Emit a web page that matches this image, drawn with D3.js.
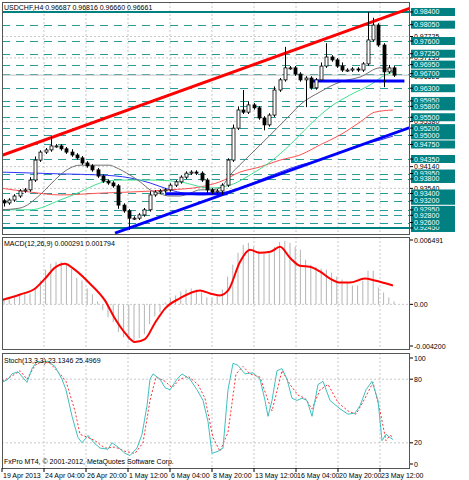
<!DOCTYPE html>
<html><head><meta charset="utf-8">
<script src="https://cdn.jsdelivr.net/npm/d3@7"></script>
<style>body{margin:0;background:#fff}svg{font-family:"Liberation Sans",Arial,sans-serif}</style>
</head><body><svg id="c" width="469" height="480"></svg>
<script>
// candle closes (H4, one per ~2 real bars)
var closes = [0.9314,0.9322,0.9333,0.9347,0.9350,0.9377,0.9432,0.9454,0.9460,0.9471,
  0.9471,0.9463,0.9454,0.9446,0.9438,0.9424,0.9416,0.9405,0.9388,0.9374,
  0.9369,0.9361,0.9308,0.9292,0.9272,0.9272,0.9281,0.9295,0.9336,0.9344,
  0.9347,0.9350,0.9363,0.9372,0.9385,0.9396,0.9399,0.9396,0.9377,0.9350,
  0.9344,0.9347,0.9363,0.9432,0.9520,0.9570,0.9564,0.9584,0.9576,0.9548,
  0.9529,0.9556,0.9625,0.9653,0.9686,0.9686,0.9669,0.9653,0.9658,0.9631,
  0.9653,0.9691,0.9716,0.9708,0.9691,0.9680,0.9680,0.9683,0.9680,0.9697,
  0.9763,0.9804,0.9749,0.9675,0.9686,0.96661];
var firstOpen = 0.9320;
// wick lengths beyond the body, in pips
var hiPips = [5,5,5,5,5,8,10,5,5,25, 5,5,5,8,5,5,5,5,5,5, 5,5,5,5,5,5,5,5,10,5,
  5,5,5,5,5,5,5,5,5,5, 5,5,5,5,10,10,55,10,5,5, 5,5,10,5,58,5,5,5,5,5,
  5,10,38,5,5,10,5,5,5,5, 77,20,5,5,8,5];
var loPips = [10,5,5,5,5,5,5,5,5,5, 5,5,5,5,5,5,5,5,5,5, 5,5,10,5,32,5,5,5,5,5,
  5,5,5,5,5,5,5,5,5,10, 5,5,10,5,5,5,5,5,5,5, 15,5,5,5,5,5,5,5,75,5,
  5,5,5,5,5,5,5,5,5,5, 5,5,5,42,5,5];

// moving averages: [bar, price]
var maGray = [[-0.7,0.9295],[3.1,0.9300],[6.9,0.9336],[8.8,0.9363],[10.8,0.9391],[12.7,0.9410],[14.6,0.9418],[18.5,0.9418],[20.4,0.9418],[21.3,0.9413],[24.2,0.9391],[26.2,0.9372],[28.1,0.9350],[30,0.9339],[31.9,0.9333],[33.8,0.9333],[35.8,0.9341],[37.7,0.9350],[39.6,0.9350],[41.5,0.9355],[43.5,0.9391],[47.3,0.9446],[51.2,0.9501],[55,0.9556],[56.9,0.9584],[60.8,0.9620],[64.6,0.9647],[68.5,0.9661],[72.3,0.9686],[75,0.9675]];
var maGreen = [[-0.7,0.9295],[5,0.9295],[10.8,0.9322],[14.6,0.9344],[18.5,0.9369],[22.3,0.9377],[28.1,0.9377],[33.8,0.9372],[39.6,0.9355],[43.5,0.9363],[47.3,0.9391],[51.2,0.9427],[55,0.9474],[58.8,0.9529],[62.7,0.9578],[66.5,0.9611],[70.4,0.9639],[73.3,0.9666],[75,0.9675]];
var maRed = [[-0.7,0.9355],[5,0.9344],[10.8,0.9336],[18.5,0.9341],[24.2,0.9344],[31.9,0.9350],[37.7,0.9358],[41.5,0.9372],[45.4,0.9399],[49.2,0.9413],[53.1,0.9432],[56.9,0.9446],[60.8,0.9474],[64.6,0.9501],[68.5,0.9537],[71.3,0.9564],[74.8,0.9570]];
var maBlue = [[-0.7,0.9399],[10.8,0.9394],[18.5,0.9391],[24.2,0.9383],[28.1,0.9369],[31.9,0.9350],[37.7,0.9336],[41.5,0.9341],[45.4,0.9355],[49.2,0.9377],[53.1,0.9399],[56.9,0.9418],[60.8,0.9432],[64.6,0.9454],[68.5,0.9474],[72.3,0.9487],[74.8,0.9498]];

// trendlines [bar, price]
var redTrend = [[-1,0.9442],[78,0.9850]];
var blueTrend = [[21.35,0.9231],[78.5,0.9524]];
var blueSupport1 = [[31,0.9339],[43,0.9339]];
var blueSupport2 = [[59.4,0.9650],[77,0.9650]];

// horizontal levels
var levels = [0.98050,0.97600,0.97250,0.96950,0.96700,0.96300,0.95950,0.95800,0.95500,0.95200,0.95000,0.94750,0.94350,0.93950,0.93800,0.93400,0.93200,0.92950,0.92800,0.92600];
var solidLevels = [0.98400,0.92450];
var gridPrices = [0.97725,0.97135,0.95380,0.94140,0.93540];
var lastPrice = 0.96661;

// MACD
var macdHist = [0.0006,0.0007,0.0008,0.001,0.0012,0.0011,0.0016,0.0024,0.0035,0.0041,
  0.0043,0.0043,0.004,0.0036,0.0027,0.0024,0.0016,0.001,0.0003,-0.0006,
  -0.0013,-0.0018,-0.0028,-0.0033,-0.0036,-0.0036,-0.0034,-0.003,-0.002,-0.0012,
  -0.0008,0.0002,0.0006,0.0009,0.0013,0.0015,0.0016,0.0015,0.0012,0.0007,
  0.0006,0.001,0.0015,0.0028,0.004,0.0052,0.006,0.0062,0.0058,0.0054,
  0.0051,0.0052,0.0058,0.0063,0.0064,0.0062,0.0058,0.0055,0.0045,0.004,
  0.0038,0.0036,0.0035,0.0032,0.0028,0.0025,0.0022,0.0019,0.0019,0.0024,
  0.0034,0.0034,0.0017,0.0012,0.0007,0.0003];
var macdSignal = [[-0.7,0.0004],[3.1,0.001],[6,0.0016],[7.9,0.0026],[9.8,0.0037],[11.7,0.0041],[13.6,0.0035],[16.5,0.0021],[19.4,0.0004],[21.3,-0.0014],[23.3,-0.0029],[25.2,-0.0038],[27.1,-0.0035],[29,-0.0019],[31,-0.0004],[33.8,0.0006],[37.7,0.0014],[39.6,0.0011],[41.5,0.0009],[43.1,0.0014],[45.4,0.0043],[47.3,0.0055],[49.2,0.0052],[51.2,0.0053],[53.1,0.0058],[55,0.0047],[56.9,0.0039],[58.8,0.0038],[60.8,0.0033],[62.7,0.0026],[64.6,0.0022],[66.5,0.0022],[69.4,0.0026],[71.3,0.0024],[74.8,0.0019]];

// Stochastic, positions along the time axis and values
var stochMainX = [2,8,12,18,27,32,37,42,48,55,62,66,72,78,82,88,94,100,108,112,118,125,130,137,142,147,150,153,160,165,170,177,182,190,197,203,208,212,218,223,228,233,238,245,253,260,265,268,272,277,282,287,292,297,302,307,312,318,323,330,340,348,355,360,366,372,378,382,386,390,393];
var stochMain = [77,80,85,87,77,90,97,96,97,92,80,70,45,25,20,27,20,15,14,20,16,10,8,15,28,55,80,85,80,72,70,80,85,80,70,60,40,10,12,15,70,95,93,85,86,80,60,45,60,88,90,80,62,60,62,60,45,75,78,60,52,47,48,55,70,78,60,22,28,25,23.13];
var stochSigX = [2,12,20,27,35,42,50,60,66,75,80,88,95,105,115,125,135,143,150,156,165,172,180,188,198,205,213,220,228,236,243,250,260,268,272,282,290,298,305,312,320,328,338,348,356,365,373,380,386,390,393];
var stochSig = [78,83,88,80,93,97,95,85,78,50,28,25,22,15,16,12,10,20,60,82,78,72,80,83,75,62,25,12,30,85,92,85,82,60,50,88,75,65,62,52,70,75,58,50,47,62,77,50,22,27,25.5];

var timeLabels = ["19 Apr 2013","24 Apr 04:00","26 Apr 20:00","1 May 12:00","6 May 04:00","8 May 20:00","13 May 12:00","16 May 04:00","20 May 20:00","23 May 12:00"];

var svg = d3.select("#c");
var teal = "#008080";
var L = 2, R = 410;
var FS = 7;

var x = d3.scaleLinear().domain([0, 75]).range([4, 394]);
var yP = d3.scaleLinear().domain([0.92284, 0.98675]).range([234, 2]);
var yM = d3.scaleLinear().domain([-0.0042, 0.00649]).range([346, 240]);
var yS = d3.scaleLinear().domain([0, 100]).range([464, 358]);
var xPix = d3.scaleLinear().domain([0, 469]).range([0, 469]);
var tickX = d3.scaleLinear().domain([0, 9]).range([2, 380]);

function clip(id, y0, y1) {
  svg.append("clipPath").attr("id", id).append("rect")
    .attr("x", L).attr("y", y0).attr("width", R - L).attr("height", y1 - y0);
}
clip("cp", 2, 234); clip("cm", 237, 349); clip("cs", 353, 468);

// vertical grid
[[2,234],[237,349],[353,468]].forEach(function(p) {
  d3.range(1, 10).forEach(function(k) {
    svg.append("line").attr("x1", tickX(k)).attr("x2", tickX(k)).attr("y1", p[0]).attr("y2", p[1])
      .attr("stroke", "#c8c8c8").attr("stroke-dasharray", "2,2");
  });
});

var gp = svg.append("g").attr("clip-path", "url(#cp)");
gridPrices.forEach(function(p) {
  gp.append("line").attr("x1", L).attr("x2", R).attr("y1", yP(p)).attr("y2", yP(p))
    .attr("stroke", "#c8c8c8").attr("stroke-dasharray", "2,2");
});
levels.forEach(function(p) {
  gp.append("line").attr("x1", L).attr("x2", R).attr("y1", Math.round(yP(p)) + 0.5).attr("y2", Math.round(yP(p)) + 0.5)
    .attr("stroke", "#2a9a9a").attr("stroke-dasharray", "8,6");
});
solidLevels.forEach(function(p) {
  gp.append("line").attr("x1", L).attr("x2", R).attr("y1", yP(p)).attr("y2", yP(p))
    .attr("stroke", teal).attr("stroke-width", 2);
});
gp.append("line").attr("x1", L).attr("x2", R).attr("y1", yP(lastPrice)).attr("y2", yP(lastPrice))
  .attr("stroke", "#c0c0c0");

var line = d3.line().x(function(d) { return x(d[0]); }).y(function(d) { return yP(d[1]); }).curve(d3.curveMonotoneX);
[[maBlue, "#3030ff"], [maRed, "#ff5050"], [maGreen, "#40e090"], [maGray, "#707070"]].forEach(function(m) {
  gp.append("path").attr("d", line(m[0])).attr("fill", "none").attr("stroke", m[1]).attr("stroke-width", 1);
});

var straight = d3.line().x(function(d) { return x(d[0]); }).y(function(d) { return yP(d[1]); });
gp.append("path").attr("d", straight(redTrend)).attr("stroke", "#ff0000").attr("stroke-width", 3);
gp.append("path").attr("d", straight(blueTrend)).attr("stroke", "#0000ff").attr("stroke-width", 3);
gp.append("path").attr("d", straight(blueSupport1)).attr("stroke", "#0000ff").attr("stroke-width", 3);
gp.append("path").attr("d", straight(blueSupport2)).attr("stroke", "#0000ff").attr("stroke-width", 3);

// candles
closes.forEach(function(c, i) {
  var o = i === 0 ? firstOpen : closes[i - 1];
  var top = Math.max(o, c), bot = Math.min(o, c);
  var hi = top + hiPips[i] / 10000, lo = bot - loPips[i] / 10000;
  var cx = Math.round(x(i)) + 0.5;
  gp.append("line").attr("x1", cx).attr("x2", cx).attr("y1", yP(hi)).attr("y2", yP(lo)).attr("stroke", "#000");
  gp.append("rect").attr("x", cx - 1.5).attr("width", 3)
    .attr("y", yP(top)).attr("height", Math.max(1, yP(bot) - yP(top)))
    .attr("fill", c >= o ? "#fff" : "#000").attr("stroke", "#000").attr("stroke-width", 0.8);
});

// MACD pane
var gm = svg.append("g").attr("clip-path", "url(#cm)");
gm.append("line").attr("x1", L).attr("x2", R).attr("y1", yM(0)).attr("y2", yM(0)).attr("stroke", "#c8c8c8").attr("stroke-dasharray", "2,2");
macdHist.forEach(function(v, i) {
  gm.append("line").attr("x1", x(i)).attr("x2", x(i)).attr("y1", yM(0)).attr("y2", yM(v))
    .attr("stroke", "#b4b4b4").attr("stroke-width", 1);
});
var mline = d3.line().x(function(d) { return x(d[0]); }).y(function(d) { return yM(d[1]); }).curve(d3.curveMonotoneX);
gm.append("path").attr("d", mline(macdSignal)).attr("fill", "none").attr("stroke", "#ff0000").attr("stroke-width", 2);

// Stoch pane
var gs = svg.append("g").attr("clip-path", "url(#cs)");
[80, 20].forEach(function(v) {
  gs.append("line").attr("x1", L).attr("x2", R).attr("y1", yS(v)).attr("y2", yS(v)).attr("stroke", "#c8c8c8").attr("stroke-dasharray", "2,2");
});
var sline = function(xs) {
  return d3.line().x(function(d, i) { return xPix(xs[i]); }).y(function(d) { return yS(d); });
};
gs.append("path").attr("d", sline(stochSigX)(stochSig)).attr("fill", "none").attr("stroke", "#ff3030").attr("stroke-dasharray", "2,2");
gs.append("path").attr("d", sline(stochMainX)(stochMain)).attr("fill", "none").attr("stroke", "#40c0c0");

// pane frames
[[2,234],[237,349],[353,468]].forEach(function(p) {
  svg.append("rect").attr("x", L + 0.5).attr("y", p[0] + 0.5).attr("width", R - L - 1).attr("height", p[1] - p[0])
    .attr("fill", "none").attr("stroke", "#555");
});

// price axis labels
function label(y, t, boxed) {
  if (boxed) {
    svg.append("rect").attr("x", 411).attr("y", y - 4).attr("width", 44).attr("height", 8).attr("fill", teal);
  }
  svg.append("line").attr("x1", R).attr("x2", R + 3).attr("y1", y).attr("y2", y).attr("stroke", "#000");
  svg.append("text").attr("x", 414).attr("y", y + 2.5).attr("font-size", FS)
    .attr("fill", boxed ? "#fff" : "#000").text(t);
}
gridPrices.forEach(function(p) { label(yP(p), p.toFixed(5), false); });
label(yP(0.96625), "0.96625", false);
solidLevels.concat(levels).forEach(function(p) { label(yP(p), p.toFixed(5), true); });
label(yM(0.00649), "0.006491", false);
label(yM(0), "0.00", false);
label(yM(-0.0042), "-0.004200", false);
[100, 80, 20, 0].forEach(function(v) { label(yS(v), String(v), false); });

function txt(xp, yp, t) {
  svg.append("text").attr("x", xp).attr("y", yp).attr("font-size", FS).attr("fill", "#000").text(t);
}
txt(4, 10, "USDCHF,H4  0.96687 0.96816 0.96660 0.96661");
txt(4, 246, "MACD(12,26,9) 0.000291 0.001794");
txt(4, 363, "Stoch(13,3,3) 23.1346 25.4969");
txt(4, 464, "FxPro MT4, \u00a9 2001-2012, MetaQuotes Software Corp.");

// time axis
timeLabels.forEach(function(t, k) {
  var xx = tickX(k);
  svg.append("line").attr("x1", xx).attr("x2", xx).attr("y1", 468).attr("y2", 472).attr("stroke", "#000");
  svg.append("text").attr("x", xx + 1).attr("y", 478).attr("font-size", FS).text(t);
});
</script></body></html>
